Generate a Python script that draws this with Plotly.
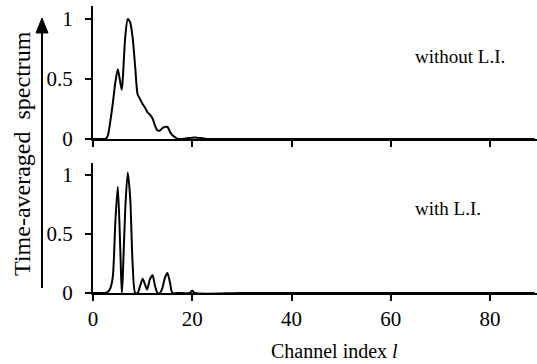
import plotly.graph_objects as go

x_without = [0, 1, 2, 2.5, 3, 3.5, 4, 4.5, 5, 5.5, 5.8, 6, 6.5, 7, 7.5, 8, 8.5, 9, 9.5, 10,
             10.5, 11, 11.5, 12, 12.5, 13, 13.5, 14, 14.5, 15, 15.5, 16, 16.5, 17, 18, 19,
             20, 21, 22, 23, 30, 50, 70, 89]
y_without = [0, 0, 0, 0.0, 0.03, 0.15, 0.30, 0.47, 0.58, 0.47, 0.41, 0.5, 0.85, 1.0, 0.97, 0.84,
             0.6, 0.37, 0.33, 0.29, 0.26, 0.22, 0.20, 0.17, 0.11, 0.07, 0.07, 0.09, 0.10, 0.10,
             0.06, 0.03, 0.015, 0, 0, 0.005, 0.01, 0.01, 0.005, 0, 0, 0, 0, 0]

x_with = [0, 1, 2, 2.5, 3, 3.5, 4, 4.5, 5, 5.5, 5.8, 6, 6.5, 7, 7.5, 8, 8.5, 9, 9.5, 10,
          10.5, 10.9, 11.5, 12, 12.5, 13, 13.5, 14, 14.5, 15, 15.5, 16, 17, 19.5, 20, 20.5,
          30, 50, 70, 89]
y_with = [0, 0, 0, 0, 0.01, 0.04, 0.14, 0.6, 0.9, 0.37, 0, 0.14, 0.71, 1.02, 0.8, 0.23, 0,
          0, 0.06, 0.12, 0.07, 0.03, 0.12, 0.15, 0.06, 0, 0, 0.045, 0.13, 0.17, 0.09, 0, 0,
          0, 0.02, 0, 0, 0, 0, 0]

x_ticks = [0, 20, 40, 60, 80]
y_ticks = [0, 0.5, 1]
y_tick_text = ["0", "0.5", "1"]

FONT = "Liberation Serif, Times New Roman, serif"
fig = go.Figure()
fig.add_trace(go.Scatter(x=x_without, y=y_without, mode="lines", xaxis="x2", yaxis="y2",
                         line=dict(color="black", width=2, shape="spline", smoothing=0.7),
                         showlegend=False))
fig.add_trace(go.Scatter(x=x_with, y=y_with, mode="lines", xaxis="x", yaxis="y",
                         line=dict(color="black", width=2, shape="spline", smoothing=0.7),
                         showlegend=False))

xcommon = dict(range=[0, 89.47], showgrid=False, zeroline=False, showline=True,
               linecolor="black", linewidth=2, ticks="outside", ticklen=6, tickwidth=2,
               tickcolor="black", tickvals=x_ticks, automargin=False,
               tickfont=dict(family=FONT, size=21))
ycommon = dict(showgrid=False, zeroline=False, showline=True, linecolor="black",
               linewidth=2, ticks="outside", ticklen=6, tickwidth=2, tickcolor="black",
               tickvals=y_ticks, ticktext=y_tick_text, ticklabelstandoff=8, automargin=False,
               tickfont=dict(family=FONT, size=21))

fig.update_layout(
    width=537, height=364,
    margin=dict(l=93, r=0, t=6, b=71, autoexpand=False),
    paper_bgcolor="white", plot_bgcolor="white",
    font=dict(family=FONT, size=20, color="black"),
    xaxis=dict(**xcommon, anchor="y", domain=[0, 1], showticklabels=True),
    xaxis2=dict(**xcommon, anchor="y2", domain=[0, 1], showticklabels=False),
    yaxis=dict(**ycommon, anchor="x", domain=[0, 0.453], range=[0, 1.10]),
    yaxis2=dict(**ycommon, anchor="x2", domain=[0.537, 1], range=[0, 1.108]),
)

fig.add_annotation(text="without L.I.", xref="paper", yref="paper", x=0.72, y=0.825,
                   xanchor="left", yanchor="middle", showarrow=False,
                   font=dict(family=FONT, size=19))
fig.add_annotation(text="with L.I.", xref="paper", yref="paper", x=0.72, y=0.295,
                   xanchor="left", yanchor="middle", showarrow=False,
                   font=dict(family=FONT, size=19))
fig.add_annotation(text="Channel index <i>l</i>", xref="paper", yref="paper", x=0.545, y=-0.202,
                   xanchor="center", yanchor="middle", showarrow=False,
                   font=dict(family=FONT, size=20))
fig.add_annotation(text="Time-averaged  spectrum", xref="paper", yref="paper", x=-0.16, y=0.488,
                   xanchor="center", yanchor="middle", showarrow=False, textangle=-90,
                   font=dict(family=FONT, size=24))

# Arrow alongside the y label
ax = -0.1149
fig.add_shape(type="line", xref="paper", yref="paper", x0=ax, x1=ax, y0=0.0174, y1=0.91,
              line=dict(color="black", width=2))
w = 6 / 444
fig.add_shape(type="path", xref="paper", yref="paper",
              path=f"M {ax - w} 0.906 L {ax + w} 0.906 L {ax} 0.958 Z",
              fillcolor="black", line=dict(color="black", width=1))

fig.write_html("out.html", config={"displayModeBar": False},
               post_script="document.body.style.margin='0';")
